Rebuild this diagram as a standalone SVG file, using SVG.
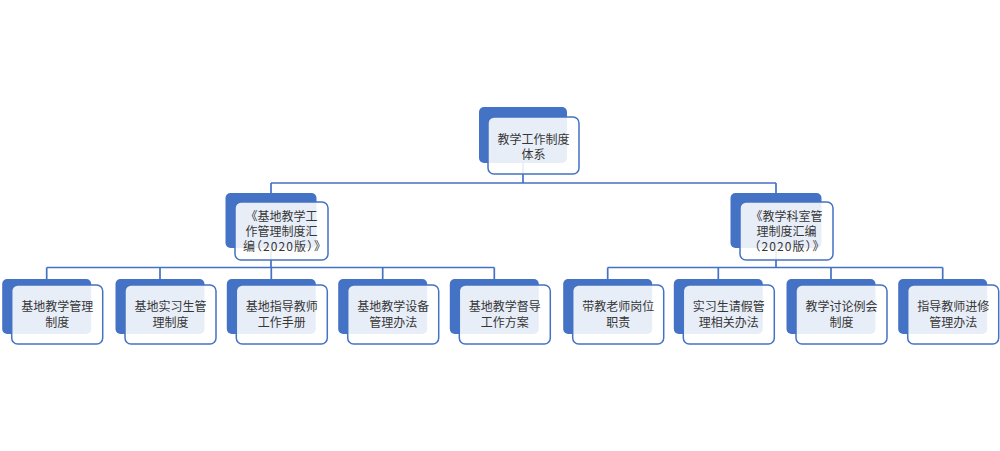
<svg xmlns="http://www.w3.org/2000/svg" width="1000" height="451" viewBox="0 0 1000 451">
<style>
.bg{fill:#ffffff}
.back{fill:#4472C4}
.front{fill:#ffffff;fill-opacity:0.88;stroke:#4472C4;stroke-width:1.5}
.conn{fill:none;stroke:#4472C4;stroke-width:1.7}
text{font-family:"Noto Sans CJK SC","Liberation Sans",sans-serif;font-size:12px;fill:#363636;text-anchor:middle}
.h{font-feature-settings:"halt"}
</style>
<rect class="bg" x="0" y="0" width="1000" height="451"/>
<g id="connectors">
<path class="conn" d="M523,135V183M271,183H776M271,183V220M776,183V220"/>
<path class="conn" d="M271,220V267.5M46.7,267.5H494.3M46.7,267.5V290M160,267.5V290M271.3,267.5V290M382.7,267.5V290M494.3,267.5V290"/>
<path class="conn" d="M776,220V267.5M607.7,267.5H942.7M607.7,267.5V290M718.3,267.5V290M831,267.5V290M942.7,267.5V290"/>
</g>
<g id="root">
<rect class="back" x="479" y="107" width="88" height="56" rx="5"/>
<rect class="front" x="488" y="117" width="91" height="57" rx="6"/>
<text x="533.5" y="144">教学工作制度</text>
<text x="533.5" y="159">体系</text>
</g>
<g id="l2a">
<rect class="back" x="225.5" y="193" width="91" height="55" rx="5"/>
<rect class="front" x="235" y="202" width="93" height="58" rx="6"/>
<text x="281.5" y="221">《基地教学工</text>
<text x="281.5" y="236">作管理制度汇</text>
<text class="h" x="281.5" y="251" textLength="77" lengthAdjust="spacing">编（2020版）》</text>
</g>
<g id="l2b">
<rect class="back" x="730.5" y="193" width="91" height="55" rx="5"/>
<rect class="front" x="740" y="202" width="93" height="58" rx="6"/>
<text x="786.5" y="221">《教学科室管</text>
<text x="786.5" y="236">理制度汇编</text>
<text class="h" x="786.5" y="251" textLength="64" lengthAdjust="spacing">（2020版）》</text>
</g>
<g id="n1">
<rect class="back" x="2.2" y="279" width="89" height="55" rx="5"/>
<rect class="front" x="11.7" y="285" width="91" height="59" rx="6"/>
<text x="57.2" y="311">基地教学管理</text>
<text x="57.2" y="327">制度</text>
</g>
<g id="n2">
<rect class="back" x="115.5" y="279" width="89" height="55" rx="5"/>
<rect class="front" x="125" y="285" width="91" height="59" rx="6"/>
<text x="170.5" y="311">基地实习生管</text>
<text x="170.5" y="327">理制度</text>
</g>
<g id="n3">
<rect class="back" x="226.8" y="279" width="89" height="55" rx="5"/>
<rect class="front" x="236.3" y="285" width="91" height="59" rx="6"/>
<text x="281.8" y="311">基地指导教师</text>
<text x="281.8" y="327">工作手册</text>
</g>
<g id="n4">
<rect class="back" x="338.2" y="279" width="89" height="55" rx="5"/>
<rect class="front" x="347.7" y="285" width="91" height="59" rx="6"/>
<text x="393.2" y="311">基地教学设备</text>
<text x="393.2" y="327">管理办法</text>
</g>
<g id="n5">
<rect class="back" x="449.8" y="279" width="89" height="55" rx="5"/>
<rect class="front" x="459.3" y="285" width="91" height="59" rx="6"/>
<text x="504.8" y="311">基地教学督导</text>
<text x="504.8" y="327">工作方案</text>
</g>
<g id="n6">
<rect class="back" x="563.2" y="279" width="89" height="55" rx="5"/>
<rect class="front" x="572.7" y="285" width="91" height="59" rx="6"/>
<text x="618.2" y="311">带教老师岗位</text>
<text x="618.2" y="327">职责</text>
</g>
<g id="n7">
<rect class="back" x="673.8" y="279" width="89" height="55" rx="5"/>
<rect class="front" x="683.3" y="285" width="91" height="59" rx="6"/>
<text x="728.8" y="311">实习生请假管</text>
<text x="728.8" y="327">理相关办法</text>
</g>
<g id="n8">
<rect class="back" x="786.5" y="279" width="89" height="55" rx="5"/>
<rect class="front" x="796" y="285" width="91" height="59" rx="6"/>
<text x="841.5" y="311">教学讨论例会</text>
<text x="841.5" y="327">制度</text>
</g>
<g id="n9">
<rect class="back" x="898.2" y="279" width="89" height="55" rx="5"/>
<rect class="front" x="907.7" y="285" width="91" height="59" rx="6"/>
<text x="953.2" y="311">指导教师进修</text>
<text x="953.2" y="327">管理办法</text>
</g>
</svg>
